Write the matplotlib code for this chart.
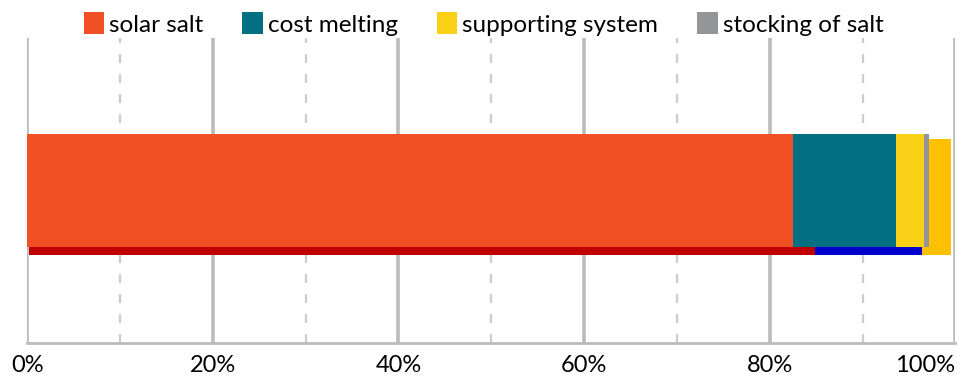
import matplotlib
matplotlib.use('Agg')
import matplotlib.pyplot as plt
from matplotlib.patches import Patch
from matplotlib.ticker import MultipleLocator, FuncFormatter

plt.rcParams['font.family'] = ['Lato', 'DejaVu Sans']

# cost shares (percent of total)
categories = ['solar salt', 'cost melting', 'supporting system', 'stocking of salt']
front_values = [82.5, 11.1, 3.0, 0.6]
front_colors = ['#F05023', '#007082', '#F9D016', '#939598']

# offset back layer
back_values = [84.7, 11.5, 3.1]
back_colors = ['#C00000', '#0000CC', '#FFC000']

xticks = [0, 20, 40, 60, 80, 100]

fig = plt.figure(figsize=(9.67, 3.79), dpi=100)
ax = fig.add_axes([0.028, 0.095, 0.96, 0.805])

# back bar, shifted slightly right and down
left = 0.2
for v, c in zip(back_values, back_colors):
    ax.barh(0.479, v, left=left, height=0.38, color=c, zorder=2)
    left += v

left = 0
for v, c in zip(front_values, front_colors):
    ax.barh(0.5, v, left=left, height=0.37, color=c, zorder=3)
    left += v

ax.set_xlim(0, 100)
ax.set_ylim(0, 1)
ax.set_yticks([])

ax.xaxis.set_major_locator(MultipleLocator(20))
ax.xaxis.set_minor_locator(MultipleLocator(10))
ax.xaxis.set_major_formatter(FuncFormatter(lambda x, p: f'{x:.0f}%'))
ax.grid(True, which='major', axis='x', color='#BBBBBB', linewidth=2.6, zorder=0)
ax.grid(True, which='minor', axis='x', color='#CCCCCC', linewidth=1.6,
        linestyle=(0, (4, 5)), zorder=0)
ax.set_axisbelow(True)
ax.tick_params(axis='x', which='both', length=0, pad=9, labelsize=17)
for lbl in ax.get_xticklabels():
    if lbl.get_text() == '100%':
        lbl.set_horizontalalignment('right')

for s in ['top', 'left', 'right']:
    ax.spines[s].set_visible(False)
ax.spines['bottom'].set_color('#BBBBBB')
ax.spines['bottom'].set_linewidth(2)
ax.spines['bottom'].set_zorder(1)

handles = [Patch(facecolor=c, edgecolor='none') for c in front_colors]
fig.legend(handles, categories, loc='upper center', bbox_to_anchor=(0.5, 1.025),
           ncol=4, frameon=False, fontsize=17.5, handlelength=0.85,
           handleheight=1.0, handletextpad=0.2, columnspacing=1.6)

fig.savefig('out.png', dpi=100)
